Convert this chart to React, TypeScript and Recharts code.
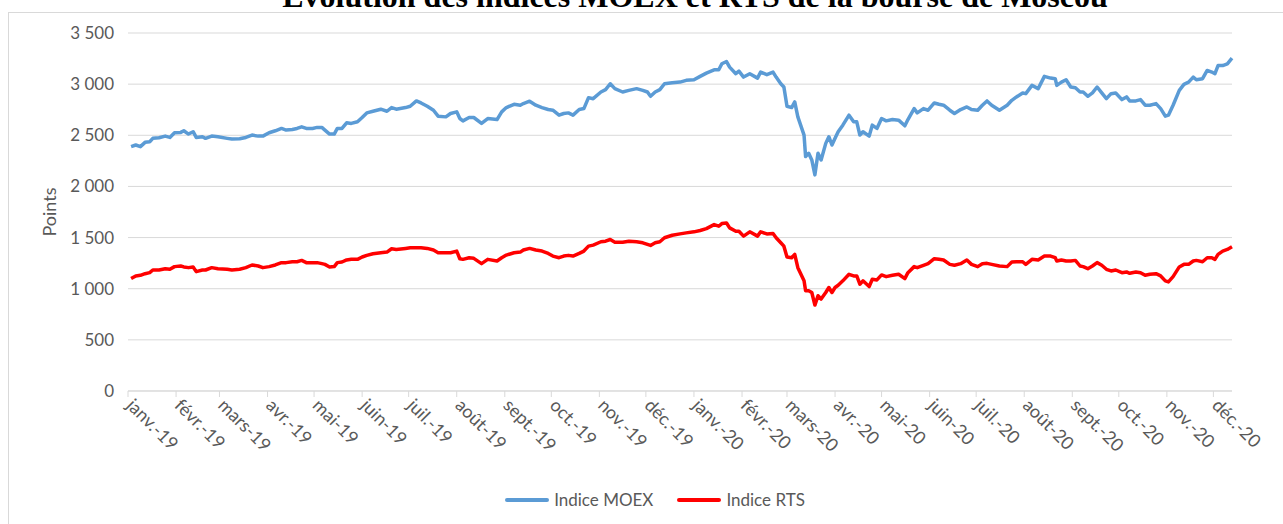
import { LineChart, Line, XAxis, YAxis, CartesianGrid, Legend } from 'recharts'

// day offsets from 1 Jan 2019
const days = [
  2, 5, 8, 11, 14, 16, 20, 24, 27, 30, 34, 36, 39, 42, 44, 48, 50, 54, 58, 64, 67, 72, 76, 80, 84, 87, 91, 95, 99,
  102, 106, 109, 112, 115, 119, 122, 125, 127, 130, 133, 135, 138, 141, 144, 148, 151, 154, 158, 163, 167, 170, 173,
  179, 182, 186, 189, 193, 197, 200, 205, 208, 212, 214, 216, 220, 223, 228, 232, 238, 241, 244, 249, 253, 255, 259,
  263, 267, 271, 274, 278, 281, 284, 287, 291, 294, 297, 300, 305, 308, 311, 314, 319, 323, 328, 332, 335, 337, 340,
  343, 346, 351, 356, 360, 365, 369, 373, 378, 381, 383, 386, 388, 392, 394, 397, 401, 406, 408, 412, 416, 418, 421,
  423, 425, 428, 430, 432, 436, 437, 439, 441, 443, 445, 447, 450, 452, 454, 456, 458, 461, 465, 468, 470, 472, 474,
  478, 480, 483, 486, 489, 493, 497, 501, 503, 507, 509, 513, 516, 520, 523, 526, 530, 533, 537, 541, 544, 548, 551,
  554, 557, 562, 567, 570, 573, 577, 579, 583, 587, 591, 595, 598, 599, 602, 605, 608, 611, 614, 616, 619, 622, 625,
  628, 631, 634, 637, 641, 644, 646, 650, 653, 656, 659, 663, 666, 669, 671, 674, 678, 681, 684, 687, 689, 693, 696,
  699, 701, 703, 706, 709, 712,
]

const moex = [
  2389, 2405, 2389, 2431, 2437, 2470, 2476, 2492, 2479, 2525, 2528, 2544, 2512, 2535, 2479, 2486, 2470, 2492, 2486,
  2470, 2463, 2466, 2479, 2502, 2492, 2492, 2525, 2544, 2567, 2551, 2557, 2567, 2583, 2567, 2567, 2577, 2577, 2551,
  2512, 2512, 2567, 2567, 2622, 2616, 2632, 2674, 2719, 2735, 2755, 2735, 2771, 2755, 2771, 2784, 2836, 2816, 2784,
  2745, 2687, 2680, 2713, 2729, 2664, 2641, 2674, 2674, 2616, 2664, 2654, 2729, 2771, 2803, 2794, 2810, 2833, 2794,
  2771, 2752, 2745, 2697, 2713, 2719, 2697, 2752, 2761, 2868, 2858, 2923, 2946, 3004, 2956, 2923, 2939, 2956, 2939,
  2923, 2881, 2923, 2946, 3004, 3014, 3020, 3037, 3043, 3076, 3108, 3140, 3140, 3199, 3221, 3166, 3102, 3127, 3069,
  3102, 3059, 3118, 3092, 3118, 3069, 3004, 2972, 2784, 2771, 2826, 2680, 2502, 2292, 2324, 2259, 2113, 2324, 2259,
  2421, 2486, 2405, 2470, 2535, 2599, 2697, 2632, 2632, 2502, 2535, 2492, 2599, 2567, 2664, 2641, 2654, 2648, 2593,
  2654, 2761, 2719, 2761, 2745, 2816, 2803, 2794, 2745, 2713, 2752, 2777, 2752, 2745, 2794, 2836, 2794, 2745, 2794,
  2842, 2875, 2914, 2907, 2988, 2956, 3076, 3059, 3053, 2988, 3020, 3043, 2972, 2965, 2923, 2923, 2881, 2914, 2972,
  2914, 2858, 2907, 2914, 2849, 2875, 2836, 2836, 2849, 2794, 2794, 2810, 2761, 2687, 2697, 2794, 2939, 2998, 3020,
  3069, 3043, 3053, 3134, 3118, 3102, 3182, 3182, 3199, 3254,
]

const rts = [
  1099, 1125, 1131, 1147, 1157, 1183, 1183, 1196, 1190, 1216, 1222, 1213, 1206, 1213, 1167, 1183, 1183, 1206, 1196,
  1190, 1183, 1190, 1206, 1232, 1222, 1206, 1216, 1232, 1255, 1255, 1264, 1264, 1277, 1255, 1255, 1255, 1245, 1238,
  1213, 1216, 1255, 1261, 1281, 1287, 1287, 1310, 1326, 1342, 1352, 1358, 1391, 1384, 1394, 1400, 1400, 1400, 1394,
  1378, 1352, 1352, 1352, 1368, 1293, 1287, 1303, 1297, 1245, 1287, 1271, 1303, 1329, 1352, 1358, 1378, 1394, 1378,
  1368, 1345, 1319, 1303, 1319, 1326, 1319, 1345, 1368, 1416, 1426, 1459, 1465, 1481, 1455, 1455, 1465, 1459, 1449,
  1433, 1423, 1449, 1459, 1498, 1523, 1536, 1546, 1556, 1569, 1588, 1627, 1611, 1637, 1643, 1595, 1562, 1562, 1514,
  1556, 1514, 1556, 1536, 1540, 1498, 1449, 1416, 1310, 1303, 1336, 1206, 1077, 980, 980, 963, 840, 931, 899, 963,
  1012, 963, 1012, 1034, 1077, 1141, 1125, 1125, 1044, 1077, 1021, 1093, 1086, 1135, 1118, 1131, 1141, 1099, 1157,
  1216, 1206, 1229, 1245, 1293, 1287, 1281, 1238, 1229, 1245, 1281, 1238, 1216, 1245, 1248, 1238, 1222, 1216, 1261,
  1264, 1264, 1238, 1287, 1281, 1319, 1319, 1303, 1271, 1281, 1271, 1271, 1277, 1222, 1216, 1196, 1222, 1255, 1229,
  1190, 1174, 1183, 1157, 1164, 1151, 1164, 1157, 1131, 1141, 1147, 1125, 1077, 1067, 1118, 1213, 1238, 1238, 1271,
  1277, 1264, 1303, 1303, 1287, 1336, 1368, 1384, 1410,
]

const monthStarts = [0, 31, 59, 90, 120, 151, 181, 212, 243, 273, 304, 334, 365, 396, 425, 456, 486, 517, 547, 578, 609, 639, 670, 700]
const monthLabels = [
  'janv.-19', 'févr.-19', 'mars-19', 'avr.-19', 'mai-19', 'juin-19', 'juil.-19', 'août-19', 'sept.-19', 'oct.-19', 'nov.-19', 'déc.-19',
  'janv.-20', 'févr.-20', 'mars-20', 'avr.-20', 'mai-20', 'juin-20', 'juil.-20', 'août-20', 'sept.-20', 'oct.-20', 'nov.-20', 'déc.-20',
]
const yTicks = [0, 500, 1000, 1500, 2000, 2500, 3000, 3500]

const series = [
  { key: 'moex', name: 'Indice MOEX', color: '#5B9BD5' },
  { key: 'rts', name: 'Indice RTS', color: '#FF0000' },
]

const data = days.map((d, i) => ({ day: d, moex: moex[i], rts: rts[i] }))

const FONT = 'Lato, "Open Sans", sans-serif'
const TEXT = '#595959'
const GRID = '#d9d9d9'

const fmtThousands = (v: number) =>
  v >= 1000 ? `${Math.floor(v / 1000)} ${String(v % 1000).padStart(3, '0')}` : String(v)

function XTick(props: any) {
  const { x, y, payload } = props
  const idx = monthStarts.indexOf(payload.value)
  return (
    <g transform={`translate(${x + 2},${y + 3})`}>
      <text x={0} y={0} dy="0.35em" transform="rotate(45)" textAnchor="start" fill={TEXT} fontSize={18} fontFamily={FONT}>
        {monthLabels[idx]}
      </text>
    </g>
  )
}

function LegendContent() {
  return (
    <div style={{ display: 'flex', justifyContent: 'center', alignItems: 'center', gap: 24, fontFamily: FONT, fontSize: 17, color: TEXT }}>
      {series.map((s) => (
        <div key={s.key} style={{ display: 'flex', alignItems: 'center', gap: 5 }}>
          <span style={{ display: 'inline-block', width: 44, height: 4, borderRadius: 2, background: s.color }} />
          <span>{s.name}</span>
        </div>
      ))}
    </div>
  )
}

export default function App() {
  return (
    <div style={{ position: 'absolute', left: 0, top: 0, width: 1283, height: 524, overflow: 'hidden', background: '#fff' }}>
      <div style={{ position: 'absolute', left: 8, top: 12, width: 1300, height: 540, border: `1px solid ${GRID}` }} />
      <svg width={1283} height={30} style={{ position: 'absolute', left: 0, top: 0 }}>
        <text x={695} y={7} textAnchor="middle" fontFamily='"Liberation Serif", serif' fontWeight="bold" fontSize={32} fill="#000">
          Évolution des indices MOEX et RTS de la bourse de Moscou
        </text>
      </svg>
      <div style={{ position: 'absolute', left: 0, top: 0 }}>
        <LineChart width={1283} height={524} data={data} margin={{ top: 33, right: 51, bottom: 53, left: 58 }}>
          <CartesianGrid horizontal vertical={false} stroke={GRID} />
          <XAxis
            dataKey="day"
            type="number"
            domain={[0, 712]}
            ticks={monthStarts}
            interval={0}
            tick={<XTick />}
            height={80}
            axisLine={{ stroke: GRID }}
            tickLine={{ stroke: GRID }}
            tickSize={6}
          />
          <YAxis
            domain={[0, 3500]}
            ticks={yTicks}
            width={70}
            axisLine={false}
            tickLine={false}
            tickSize={0}
            tickMargin={14}
            tickFormatter={fmtThousands}
            tick={{ fill: TEXT, fontSize: 17, fontFamily: FONT }}
            label={{
              content: () => (
                <text x={49} y={212} transform="rotate(-90, 49, 212)" textAnchor="middle" dominantBaseline="central" fill={TEXT} fontSize={18} fontFamily={FONT}>
                  Points
                </text>
              ),
            }}
          />
          <Legend verticalAlign="middle" content={<LegendContent />} wrapperStyle={{ top: 489, left: 0, width: 1310 }} />
          {series.map((s) => (
            <Line
              key={s.key}
              type="linear"
              dataKey={s.key}
              name={s.name}
              stroke={s.color}
              strokeWidth={3.5}
              strokeLinejoin="round"
              dot={false}
              activeDot={false}
              isAnimationActive={false}
            />
          ))}
        </LineChart>
      </div>
    </div>
  )
}
